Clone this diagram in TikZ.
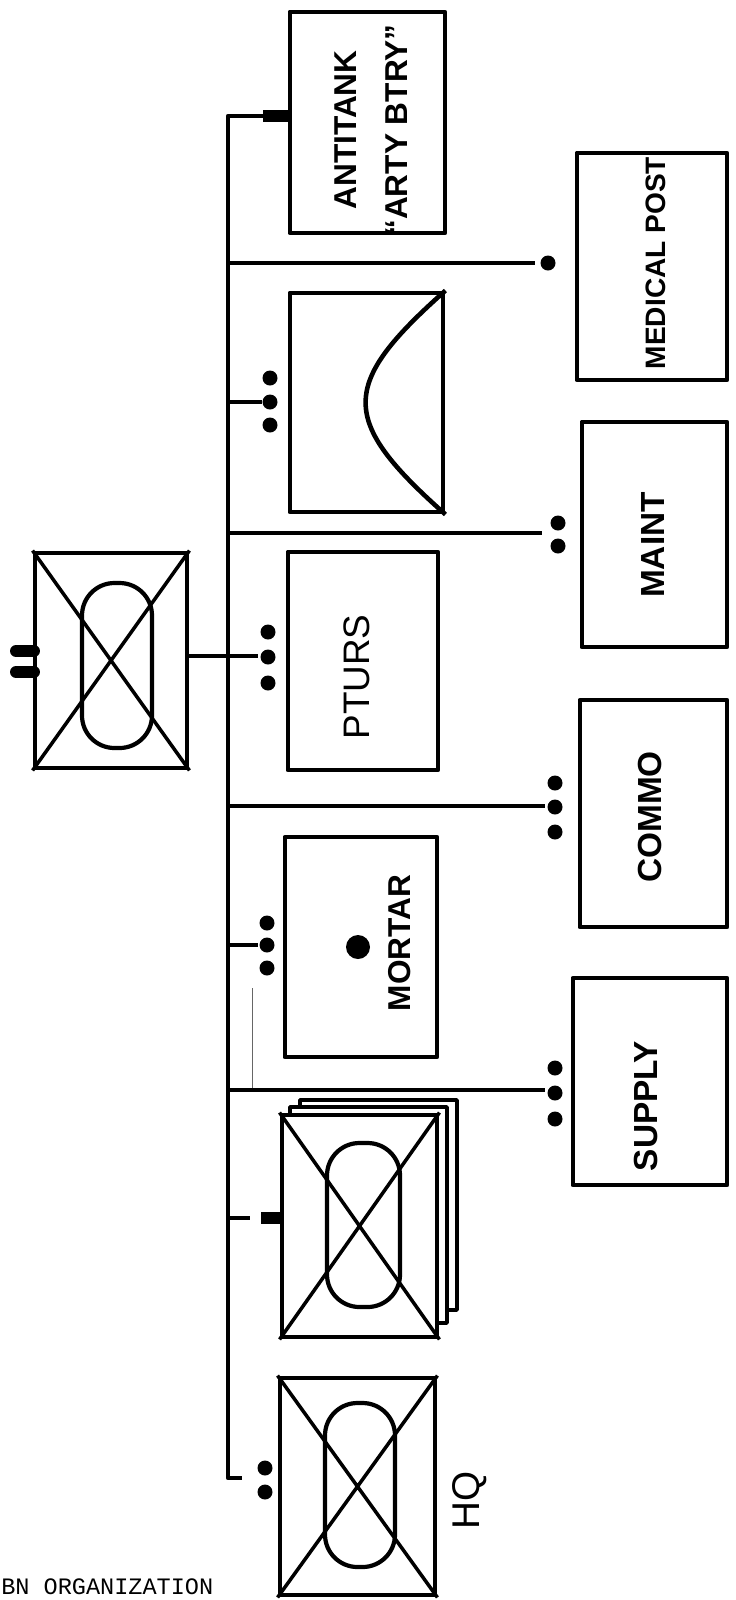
\documentclass[tikz,border=0pt]{standalone}
\usepackage{fontspec}
\setmainfont{Liberation Sans}
\setmonofont{Liberation Mono}
\usetikzlibrary{positioning}

\begin{document}
\begin{tikzpicture}[x=0.02cm,y=-0.02cm,line join=round]
	\tikzstyle{unitbox}=[draw,line width=2.8pt,inner sep=0pt,fill=white]
	\tikzstyle{busline}=[line width=2.5pt]
	\tikzstyle{xline}=[line width=2pt]
	\tikzstyle{ovalline}=[line width=2.4pt,rounded corners=0.65cm]
	\tikzstyle{lbl}=[rotate=90,inner sep=0pt,align=center]
	\tikzstyle{echelon}=[line width=0.24cm,line cap=round]

	\useasboundingbox (0,0) rectangle (735,1600);

	% battalion
	\node[unitbox,minimum width=3.04cm,minimum height=4.3cm] (bn) at (111,660.5) {};
	\draw[xline] (bn.north west) -- (bn.south east) (bn.north east) -- (bn.south west);
	\draw[ovalline] (82,583) rectangle (152,748);
	\draw[echelon] (16,651) -- (34,651) (16,672) -- (34,672);

	% left column
	\node[unitbox,minimum width=3.1cm,minimum height=4.42cm] (at) at (367.5,122.5) {};
	\node[unitbox,minimum width=3.06cm,minimum height=4.38cm] (ad) at (366.5,402.5) {};
	\node[unitbox,minimum width=3.0cm,minimum height=4.36cm] (ptu) at (363,661) {};
	\node[unitbox,minimum width=3.04cm,minimum height=4.4cm] (mor) at (361,947) {};
	\node[unitbox,line width=2.1pt,minimum width=3.14cm,minimum height=4.2cm] (stk2) at (378.5,1205) {};
	\node[unitbox,line width=2.1pt,minimum width=3.14cm,minimum height=4.32cm] (stk1) at (368.5,1215) {};
	\node[unitbox,minimum width=3.1cm,minimum height=4.44cm] (stk) at (359.5,1226) {};
	\node[unitbox,minimum width=3.1cm,minimum height=4.34cm] (hq) at (357.5,1486.5) {};

	\draw[xline] (stk.north west) -- (stk.south east) (stk.north east) -- (stk.south west);
	\draw[ovalline] (327,1143) rectangle (400,1307);
	\draw[xline] (hq.north west) -- (hq.south east) (hq.north east) -- (hq.south west);
	\draw[ovalline] (325,1403) rectangle (395,1567);
	\draw[busline,line width=2.6pt] (ad.north east) .. controls (339,385) and (339,420) .. (ad.south east);
	\fill (358,947) circle (0.24cm);

	% right column
	\node[unitbox,minimum width=3.0cm,minimum height=4.54cm] (med) at (652,266.5) {};
	\node[unitbox,minimum width=2.9cm,minimum height=4.5cm] (mnt) at (654.5,534.5) {};
	\node[unitbox,minimum width=2.94cm,minimum height=4.54cm] (com) at (653.5,813.5) {};
	\node[unitbox,minimum width=3.08cm,minimum height=4.14cm] (sup) at (650,1081.5) {};

	% labels
	\node[lbl,font=\bfseries\fontsize{18}{29}\selectfont] (atl) at (371,130) {ANTITANK\\“ARTY BTRY”};
	\node[lbl,font=\fontsize{21}{24}\selectfont] (ptul) at (357,677) {PTURS};
	\node[lbl,font=\bfseries\fontsize{18}{20}\selectfont] (morl) at (400,943) {MORTAR};
	\node[lbl,font=\fontsize{22}{24}\selectfont] (hql) at (470,1500) {HQ};
	\node[lbl,font=\bfseries\fontsize{16}{18}\selectfont] (medl) at (656,263) {MEDICAL POST};
	\node[lbl,font=\bfseries\fontsize{19}{20}\selectfont] (mntl) at (653,545) {MAINT};
	\node[lbl,font=\bfseries\fontsize{19}{20}\selectfont] (coml) at (650,817) {COMMO};
	\node[lbl,font=\bfseries\fontsize{19}{20}\selectfont] (supl) at (646,1106) {SUPPLY};
	\node[anchor=base west,inner sep=0pt,font=\ttfamily\fontsize{13.4}{16}\selectfont] (title) at (1,1594) {BN ORGANIZATION};

	% bus and branches
	\coordinate (bustop) at (228,116);
	\coordinate (busbot) at (228,1478);
	\draw[busline] (at.west |- bustop) -- (bustop) -- (busbot) -- (242,1478);
	\draw[echelon,line cap=butt] (263,116) -- (at.west |- bustop);

	\coordinate (jmed) at (228,263);
	\coordinate (jmnt) at (228,533);
	\coordinate (jcom) at (228,806);
	\coordinate (jsup) at (228,1090);
	\coordinate (emed) at (535,263);
	\coordinate (emnt) at (542,533);
	\coordinate (ecom) at (545,806);
	\coordinate (esup) at (545,1090);
	\draw[busline] (jmed) -- (emed) (jmnt) -- (emnt) (jcom) -- (ecom) (jsup) -- (esup);

	\coordinate (ead) at (262,402);
	\coordinate (eptu) at (258,656);
	\coordinate (emor) at (258,945);
	\coordinate (estk) at (250,1218);
	\draw[busline] (bustop |- ead) -- (ead);
	\draw[busline] (bn.east |- eptu) -- (eptu);
	\draw[busline] (bustop |- emor) -- (emor);
	\draw[busline] (bustop |- estk) -- (estk);
	\draw[echelon,line cap=butt] (261,1218) -- (stk.west |- estk);
	\draw[line width=0.5pt,black!60] (252,988) -- (252,1088);

	% dots
	\fill (548,263) circle (0.15cm);
	\fill (558,523) circle (0.15cm) (558,546) circle (0.15cm);
	\fill (555,783) circle (0.15cm) (555,807) circle (0.15cm) (555,832) circle (0.15cm);
	\fill (555,1068) circle (0.15cm) (555,1093) circle (0.15cm) (555,1119) circle (0.15cm);
	\fill (270,378) circle (0.15cm) (270,402) circle (0.15cm) (270,425) circle (0.15cm);
	\fill (268,632) circle (0.15cm) (268,657) circle (0.15cm) (268,683) circle (0.15cm);
	\fill (267,923) circle (0.15cm) (267,945) circle (0.15cm) (267,968) circle (0.15cm);
	\fill (265,1468) circle (0.15cm) (265,1492) circle (0.15cm);
\end{tikzpicture}
\end{document}
